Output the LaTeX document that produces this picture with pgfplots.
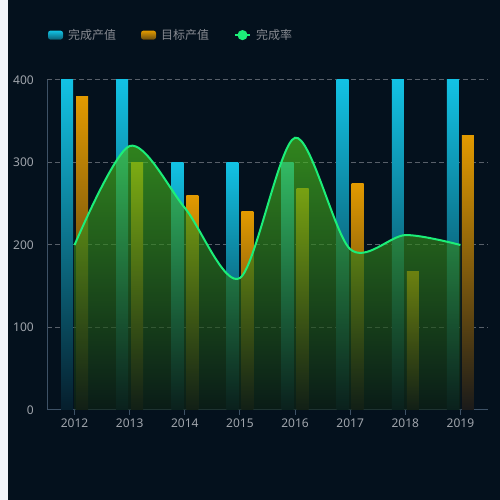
\documentclass[border=0pt]{standalone}
\usepackage{pgfplots}
\pgfplotsset{compat=1.18}
\usepackage{fontspec}
\setmainfont{Noto Sans}
\newfontfamily\cjk{Noto Sans CJK SC}
\definecolor{bg}{RGB}{4,17,29}
\definecolor{strip}{RGB}{242,244,249}
\definecolor{bluetop}{RGB}{18,194,228}
\definecolor{bluebot}{RGB}{6,30,44}
\definecolor{orgtop}{RGB}{226,154,0}
\definecolor{orgbot}{RGB}{26,26,26}
\definecolor{linegreen}{RGB}{28,238,120}
\definecolor{areatop}{RGB}{75,199,31}
\definecolor{areabot}{RGB}{13,34,21}
\definecolor{axisc}{RGB}{62,82,102}
\definecolor{gridc}{RGB}{88,96,106}
\definecolor{labelc}{RGB}{160,165,172}
\definecolor{legc}{RGB}{135,138,145}
\pgfplotsset{
  bluebar/.style={ybar, bar width=12pt, bar shift=-7.5pt, draw=none,
    top color=bluetop, bottom color=bluebot},
  orgbar/.style={ybar, bar width=12pt, bar shift=7.5pt, draw=none,
    top color=orgtop, bottom color=orgbot},
}
\begin{document}
\begin{tikzpicture}
\fill[strip] (0pt,0pt) rectangle (8pt,500pt);
\fill[bg] (8pt,0pt) rectangle (500pt,500pt);
\begin{axis}[
  at={(47pt,90pt)}, anchor=south west, scale only axis,
  width=441pt, height=330pt,
  xmin=-0.5, xmax=7.5, ymin=0, ymax=400,
  xtick={0,1,2,3,4,5,6,7},
  xticklabels={2012,2013,2014,2015,2016,2017,2018,2019},
  ytick={0,100,200,300,400},
  /pgf/number format/assume math mode=true,
  ymajorgrids,
  grid style={gridc, line width=1pt, dash pattern=on 5pt off 3pt},
  axis x line*=bottom, axis y line*=left,
  axis line style={axisc, line width=1pt},
  tick align=outside, major tick length=5pt,
  xtick style={axisc, line width=1pt},
  ytick style={draw=none},
  ticklabel style={font=\fontsize{12}{14}\selectfont, text=labelc},
  yticklabel style={inner sep=0pt, xshift=-8pt},
  xticklabel style={inner sep=0pt, yshift=-4pt},
  legend columns=3,
  legend style={at={(0.0023,1.136)}, anchor=west, draw=none, fill=none,
    inner sep=0pt, outer sep=0pt,
    font=\cjk\fontsize{12}{14}\selectfont, text=legc,
    nodes={inner sep=0pt},
    /tikz/every odd column/.append style={column sep=5pt},
    /tikz/every even column/.append style={column sep=25pt}},
]
% 完成产值 (one plot per bar so each bar gets its own gradient)
\addplot[bluebar,
  legend image code/.code={\fill[rounded corners=2.5pt, top color=bluetop, bottom color=bluebot!60!bluetop] (0pt,-4.5pt) rectangle (15pt,4.5pt);}]
  coordinates {(0,400)};
\addlegendentry{完成产值}
\addplot[orgbar,
  legend image code/.code={\fill[rounded corners=2.5pt, top color=orgtop, bottom color=orgbot!60!orgtop] (0pt,-4.5pt) rectangle (15pt,4.5pt);}]
  coordinates {(0,380)};
\addlegendentry{目标产值}
\addplot[bluebar, forget plot] coordinates {(1,400)};
\addplot[bluebar, forget plot] coordinates {(2,300)};
\addplot[bluebar, forget plot] coordinates {(3,300)};
\addplot[bluebar, forget plot] coordinates {(4,300)};
\addplot[bluebar, forget plot] coordinates {(5,400)};
\addplot[bluebar, forget plot] coordinates {(6,400)};
\addplot[bluebar, forget plot] coordinates {(7,400)};
% 目标产值
\addplot[orgbar, forget plot] coordinates {(1,300)};
\addplot[orgbar, forget plot] coordinates {(2,260)};
\addplot[orgbar, forget plot] coordinates {(3,240)};
\addplot[orgbar, forget plot] coordinates {(4,268)};
\addplot[orgbar, forget plot] coordinates {(5,275)};
\addplot[orgbar, forget plot] coordinates {(6,168)};
\addplot[orgbar, forget plot] coordinates {(7,333)};
% 完成率 area and line
\addplot[draw=none, smooth, tension=0.5, top color=areatop, bottom color=areabot,
  fill opacity=0.65, forget plot]
  coordinates {(0,200) (1,320) (2,245) (3,160) (4,330) (5,195) (6,212) (7,200)} \closedcycle;
\addplot[linegreen, line width=2pt, smooth, tension=0.5, mark=none,
  legend image code/.code={\draw[linegreen, line width=2pt] (0pt,0pt) -- (15pt,0pt); \fill[linegreen] (7.5pt,0pt) circle (4pt);}]
  coordinates {(0,200) (1,320) (2,245) (3,160) (4,330) (5,195) (6,212) (7,200)};
\addlegendentry{完成率}
\end{axis}
\end{tikzpicture}
\end{document}
